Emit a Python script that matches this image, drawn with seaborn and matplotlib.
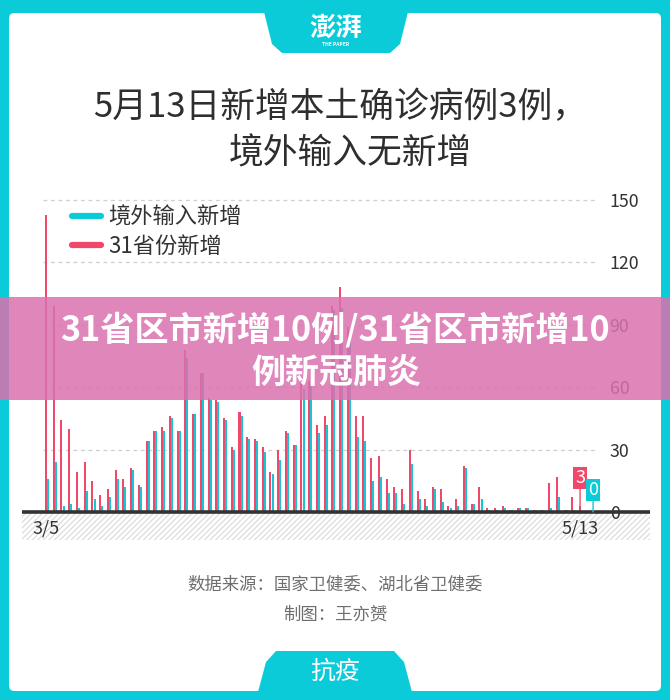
import numpy as np
import pandas as pd
import matplotlib
matplotlib.use("Agg")
import matplotlib.pyplot as plt
from matplotlib.patches import Rectangle, Polygon, FancyBboxPatch
from matplotlib.lines import Line2D
import seaborn as sns

# daily new cases 3/5 .. 5/13
dates = [f"{d.month}/{d.day}" for d in pd.date_range("2020-03-05", "2020-05-13")]

domestic = [143, 99, 44, 40, 19, 24, 15, 8, 11, 20,
            16, 21, 13, 34, 39, 41, 46, 39, 78, 47,
            67, 55, 54, 45, 31, 48, 36, 35, 31, 19,
            30, 39, 32, 62, 63, 42, 46, 99, 108, 89,
            46, 46, 26, 27, 16, 12, 11, 30, 10, 6,
            12, 11, 3, 6, 22, 4, 12, 2, 2, 3,
            1, 2, 2, 1, 1, 14, 17, 1, 7, 3]
imported = [16, 24, 3, 4, 2, 10, 6, 3, 7, 16,
            12, 20, 12, 34, 39, 39, 45, 39, 74, 47,
            67, 54, 53, 44, 30, 46, 35, 34, 29, 18,
            25, 38, 32, 59, 61, 38, 42, 97, 98, 86,
            36, 34, 15, 17, 9, 9, 4, 23, 6, 3,
            11, 5, 2, 3, 21, 4, 6, 1, 1, 2,
            1, 2, 2, 1, 1, 2, 7, 1, 1, 0]
series_names = ["31省份新增", "境外输入新增"]
yticks = [0, 30, 60, 90, 120, 150]

CYAN = "#0ccbd9"
RED = "#ef486b"
BAR_CYAN = "#17c5d6"

sns.set_style("white")
plt.rcParams["font.family"] = ["Noto Sans CJK SC", "DejaVu Sans"]
plt.rcParams["hatch.linewidth"] = 0.8

W, H = 670, 700
fig = plt.figure(figsize=(W / 100, H / 100), dpi=100)
fig.patch.set_facecolor(CYAN)


def fx(x):
    return x / W


def fy(y):
    return 1 - y / H


# white card
fig.patches.append(FancyBboxPatch((fx(9), fy(691)), fx(652), (691 - 13) / H,
                                  boxstyle="round,pad=0,rounding_size=0.008",
                                  transform=fig.transFigure, fc="white", ec="none", zorder=-2))
# top logo tab
top_tab = [(264, 12), (408, 12), (400, 44), (390, 53), (282, 53), (272, 44)]
fig.patches.append(Polygon([(fx(x), fy(y)) for x, y in top_tab], closed=True,
                           transform=fig.transFigure, fc=CYAN, ec="none", zorder=1))
fig.text(fx(336), fy(28), "澎湃", color="white", fontsize=19, fontweight="bold",
         ha="center", va="center", style="italic")
fig.text(fx(336), fy(45), "THE PAPER", color="white", fontsize=3.5, fontweight="bold",
         ha="center", va="center")
# bottom tab
bot_tab = [(258, 692), (412, 692), (404, 662), (394, 651), (276, 651), (266, 662)]
fig.patches.append(Polygon([(fx(x), fy(y)) for x, y in bot_tab], closed=True,
                           transform=fig.transFigure, fc=CYAN, ec="none", zorder=1))
fig.text(fx(335), fy(672), "抗疫", color="white", fontsize=18, style="italic",
         ha="center", va="center")

# title
fig.text(fx(340), fy(108), "5月13日新增本土确诊病例3例，", color="#2e2e2e", fontsize=25,
         fontweight="medium", ha="center", va="center")
fig.text(fx(350), fy(154), "境外输入无新增", color="#2e2e2e", fontsize=25,
         fontweight="medium", ha="center", va="center")

# footer
fig.text(fx(335), fy(585), "数据来源：国家卫健委、湖北省卫健委", color="#6e6e6e", fontsize=12.5,
         ha="center", va="center")
fig.text(fx(335), fy(615), "制图：王亦赟", color="#6e6e6e", fontsize=12.5,
         ha="center", va="center")

# chart
df = pd.DataFrame({
    "day": list(range(len(dates))) * 2,
    "value": domestic + imported,
    "series": [series_names[0]] * len(dates) + [series_names[1]] * len(dates),
})

ax = fig.add_axes([fx(22), fy(540), fx(628), 350 / H])
ax.set_facecolor("none")
sns.barplot(data=df, x="day", y="value", hue="series", hue_order=series_names,
            palette={series_names[0]: RED, series_names[1]: BAR_CYAN},
            native_scale=True, dodge=True, width=0.54, saturation=1,
            errorbar=None, legend=False, ax=ax, zorder=3)
for p in ax.patches:
    cx = p.get_x() + p.get_width() / 2
    p.set_width(0.26)
    p.set_x(cx - 0.13)
    p.set_edgecolor("none")

px_day = 7.74
x0 = -0.135
xl = (22 - 46) / px_day + x0
xr = (650 - 46) / px_day + x0
ax.set_xlim(xl, xr)
ax.set_ylim(-13.5, 154.8)

ax.hlines(yticks[1:], (43 - 46) / px_day + x0, (598 - 46) / px_day + x0,
          colors="#cfcfcf", linestyles=(0, (3, 3)), lw=0.9, zorder=1)
ax.axhline(0, color="#333333", lw=2.6, zorder=4)
ax.add_patch(Rectangle((xl, -13.5), xr - xl, 13.5, fill=False, hatch="//////",
                       ec="#d9d9d9", lw=0, zorder=0))

ax.yaxis.tick_right()
ax.set_yticks(yticks)
ax.set_yticklabels([str(t) for t in yticks])
ax.tick_params(axis="y", length=0, pad=-29, labelsize=12.8, labelcolor="#333333")
ax.set_xticks([x0, len(dates) - 1 + x0])
ax.set_xticklabels([dates[0], dates[-1]])
ax.tick_params(axis="x", length=0, pad=-15, labelsize=13, labelcolor="#333333")
ax.set_xlabel("")
ax.set_ylabel("")
for s in ax.spines.values():
    s.set_visible(False)

# last-day labels
last = len(dates) - 1
ax.annotate(str(domestic[-1]), xy=(last + x0, domestic[-1]), xytext=(last + x0, 16.3),
            ha="center", va="center", color="white", fontsize=13,
            bbox=dict(boxstyle="square,pad=0.1", fc=RED, ec="none"),
            arrowprops=dict(arrowstyle="-", color=RED, lw=1, shrinkA=0, shrinkB=0), zorder=5)
ax.annotate(str(imported[-1]), xy=(last + 1.55, imported[-1]), xytext=(last + 1.55, 10.6),
            ha="center", va="center", color="white", fontsize=13,
            bbox=dict(boxstyle="square,pad=0.1", fc=CYAN, ec="none"),
            arrowprops=dict(arrowstyle="-", color=CYAN, lw=1, shrinkA=0, shrinkB=0), zorder=5)

# legend
handles = [Line2D([], [], color=CYAN, lw=4.5, label="境外输入新增"),
           Line2D([], [], color=RED, lw=4.5, label="31省份新增")]
leg = ax.legend(handles=handles, loc="upper left", bbox_to_anchor=(fx(72), fy(206)),
                bbox_transform=fig.transFigure, frameon=False, fontsize=16,
                handlelength=1.3, handletextpad=0.35, labelspacing=0.25,
                borderpad=0, borderaxespad=0)
for t in leg.get_texts():
    t.set_color("#333333")

# pink overlay banner
fig.patches.append(Rectangle((0, fy(400)), 1, 103 / H, transform=fig.transFigure,
                             fc="#da71af", alpha=0.85, ec="none", zorder=10))
fig.text(fx(335), fy(330), "31省区市新增10例/31省区市新增10", color="white", fontsize=24.6,
         fontweight="bold", ha="center", va="center", zorder=11)
fig.text(fx(336), fy(373), "例新冠肺炎", color="white", fontsize=24.5,
         fontweight="bold", ha="center", va="center", zorder=11)

fig.savefig("out.png", dpi=100, facecolor=fig.get_facecolor())
